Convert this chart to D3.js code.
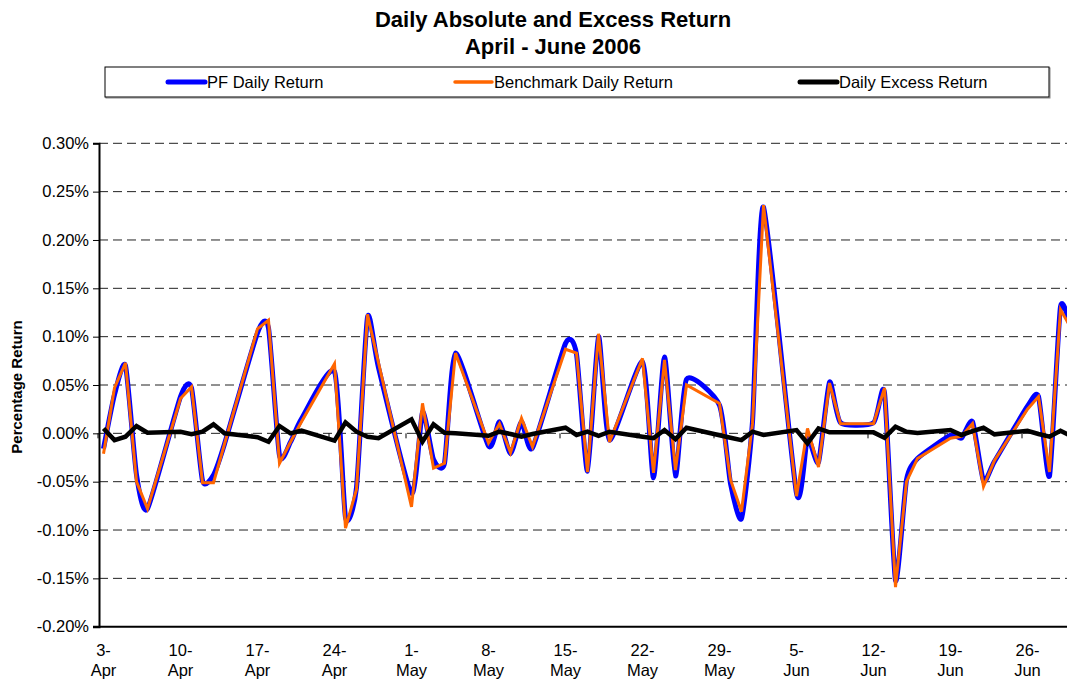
<!DOCTYPE html>
<meta charset="utf-8">
<style>
body { margin: 0; background: #fff; }
svg { font-family: Arial, "Liberation Sans", sans-serif; display: block; }
</style>
<body>
<script src="https://cdnjs.cloudflare.com/ajax/libs/d3/7.8.5/d3.min.js"></script>
<script>

var width = 1067,
    height = 680;

// trading days, 3 Apr - 30 Jun 2006
var dates = [
  "2006-04-03","2006-04-04","2006-04-05","2006-04-06","2006-04-07",
  "2006-04-10","2006-04-11","2006-04-12","2006-04-13","2006-04-14",
  "2006-04-17","2006-04-18","2006-04-19","2006-04-20","2006-04-21",
  "2006-04-24","2006-04-25","2006-04-26","2006-04-27","2006-04-28",
  "2006-05-01","2006-05-02","2006-05-03","2006-05-04","2006-05-05",
  "2006-05-08","2006-05-09","2006-05-10","2006-05-11","2006-05-12",
  "2006-05-15","2006-05-16","2006-05-17","2006-05-18","2006-05-19",
  "2006-05-22","2006-05-23","2006-05-24","2006-05-25","2006-05-26",
  "2006-05-29","2006-05-30","2006-05-31","2006-06-01","2006-06-02",
  "2006-06-05","2006-06-06","2006-06-07","2006-06-08","2006-06-09",
  "2006-06-12","2006-06-13","2006-06-14","2006-06-15","2006-06-16",
  "2006-06-19","2006-06-20","2006-06-21","2006-06-22","2006-06-23",
  "2006-06-26","2006-06-27","2006-06-28","2006-06-29","2006-06-30"
];

// values in percent
var pfReturn = [
  -0.016, 0.040, 0.070, -0.043, -0.078,
  0.038, 0.047, -0.049, -0.043, -0.011,
  0.104, 0.109, -0.023, -0.009, 0.015,
  0.064, -0.087, -0.056, 0.120, 0.068,
  -0.062, 0.022, -0.027, -0.031, 0.083,
  -0.013, 0.012, -0.021, 0.012, -0.015,
  0.093, 0.082, -0.039, 0.100, -0.007,
  0.074, -0.046, 0.079, -0.044, 0.056,
  0.029, -0.052, -0.088, 0.012, 0.234,
  -0.062, -0.005, -0.030, 0.053, 0.011,
  0.011, 0.042, -0.152, -0.048, -0.026,
  -0.002, -0.005, 0.012, -0.049, -0.029,
  0.028, 0.038, -0.044, 0.131, 0.105
];

var bmReturn = [
  -0.021, 0.047, 0.073, -0.050, -0.078,
  0.036, 0.048, -0.051, -0.051, -0.011,
  0.108, 0.117, -0.031, -0.009, 0.012,
  0.072, -0.098, -0.058, 0.123, 0.073,
  -0.076, 0.031, -0.036, -0.031, 0.083,
  -0.010, 0.010, -0.020, 0.0155, -0.014,
  0.087, 0.083, -0.040, 0.103, -0.009,
  0.0776, -0.041, 0.076, -0.038, 0.050,
  0.031, -0.048, -0.081, 0.010, 0.236,
  -0.065, 0.005, -0.035, 0.052, 0.010,
  0.010, 0.047, -0.159, -0.050, -0.026,
  -0.005, -0.003, 0.010, -0.055, -0.028,
  0.025, 0.038, -0.040, 0.128, 0.108
];

var excessReturn = [
  0.005, -0.007, -0.0035, 0.0076, 0.0006,
  0.0017, -0.001, 0.0017, 0.0093, 0.0,
  -0.004, -0.0087, 0.0076, 0.0, 0.0028,
  -0.0076, 0.0114, 0.0017, -0.0035, -0.005,
  0.0145, -0.0087, 0.0093, 0.0006, 0.0,
  -0.0025, 0.0017, -0.0007, -0.0035, -0.0007,
  0.0058, -0.0017, 0.0017, -0.0025, 0.0017,
  -0.0035, -0.005, 0.0034, -0.006, 0.0058,
  -0.002, -0.0045, -0.007, 0.0017, -0.0017,
  0.0034, -0.0103, 0.005, 0.001, 0.001,
  0.001, -0.0045, 0.0069, 0.0017, 0.0003,
  0.0034, -0.0017, 0.0024, 0.0058, -0.001,
  0.0027, -0.0007, -0.0035, 0.0027, -0.003
];

var yTicks = [0.30, 0.25, 0.20, 0.15, 0.10, 0.05, 0.00, -0.05, -0.10, -0.15, -0.20];

var xTickDates = ["2006-04-03","2006-04-10","2006-04-17","2006-04-24","2006-05-01",
  "2006-05-08","2006-05-15","2006-05-22","2006-05-29","2006-06-05",
  "2006-06-12","2006-06-19","2006-06-26"];

var seriesNames = ["PF Daily Return", "Benchmark Daily Return", "Daily Excess Return"];
var seriesColors = ["#0000ff", "#ff6600", "#000000"];

var parse = d3.utcParse("%Y-%m-%d");
var fmtDay = d3.utcFormat("%-d-");
var fmtMon = d3.utcFormat("%b");

var plotLeft = 99, plotRight = 1090, plotTop = 143.3, plotBottom = 626.7;

var x = d3.scaleUtc()
    .domain([parse("2006-04-03"), parse("2006-06-29")])
    .range([103.5, 1060.5]);

var y = d3.scaleLinear()
    .domain([-0.20, 0.30])
    .range([plotBottom, plotTop]);

var svg = d3.select("body").append("svg")
    .attr("width", width)
    .attr("height", height);

// titles
svg.append("text")
  .attr("x", 553).attr("y", 27)
  .attr("text-anchor", "middle")
  .style("font-size", "22px").style("font-weight", "bold")
  .text("Daily Absolute and Excess Return");
svg.append("text")
  .attr("x", 553).attr("y", 54)
  .attr("text-anchor", "middle")
  .style("font-size", "22px").style("font-weight", "bold")
  .text("April - June 2006");

// legend
svg.append("rect")
  .attr("x", 106).attr("y", 68).attr("width", 944).attr("height", 30)
  .attr("fill", "none").attr("stroke", "#888").attr("stroke-width", 1);
svg.append("rect")
  .attr("x", 105).attr("y", 67).attr("width", 944).attr("height", 30)
  .attr("fill", "#fff").attr("stroke", "#000").attr("stroke-width", 1);

var legendX = [168, 455, 800];
var leg = svg.selectAll(".leg")
  .data(seriesNames)
  .enter().append("g")
  .attr("transform", function(d, i){ return "translate(" + legendX[i] + ",82)"; });
leg.append("line")
  .attr("x1", 0).attr("x2", 37).attr("y1", 0).attr("y2", 0)
  .attr("stroke", function(d, i){ return seriesColors[i]; })
  .attr("stroke-width", function(d, i){ return i == 1 ? 3.5 : 5; })
  .attr("stroke-linecap", "round");
leg.append("text")
  .attr("x", 39).attr("y", 6)
  .style("font-size", "16.5px")
  .text(function(d){ return d; });

// gridlines
svg.selectAll(".grid")
  .data(yTicks.filter(function(d){ return d > -0.2; }))
  .enter().append("line")
  .attr("x1", plotLeft).attr("x2", plotRight)
  .attr("y1", function(d){ return y(d); })
  .attr("y2", function(d){ return y(d); })
  .attr("stroke", "#222")
  .attr("stroke-width", 1)
  .attr("stroke-dasharray", "9,5");

// y axis
var yAxis = d3.axisLeft(y)
  .tickValues(yTicks)
  .tickSize(6)
  .tickFormat(function(d){ return d.toFixed(2) + "%"; });
var gy = svg.append("g")
  .attr("transform", "translate(" + plotLeft + ",0)")
  .call(yAxis);
gy.select(".domain").attr("stroke", "#000").attr("stroke-width", 2);
gy.selectAll(".tick line").attr("stroke", "#000");
gy.selectAll(".tick text")
  .attr("x", -10)
  .style("font-size", "16.5px")
  .style("font-family", "Arial, 'Liberation Sans', sans-serif")
  .attr("fill", "#000");

// bottom border
svg.append("line")
  .attr("x1", plotLeft - 6).attr("x2", plotRight)
  .attr("y1", plotBottom).attr("y2", plotBottom)
  .attr("stroke", "#000").attr("stroke-width", 2);

// x axis labels (two lines)
var xt = svg.selectAll(".xt")
  .data(xTickDates)
  .enter().append("text")
  .attr("text-anchor", "middle")
  .style("font-size", "16.5px");
xt.append("tspan")
  .attr("x", function(d){ return x(parse(d)); })
  .attr("y", 656)
  .text(function(d){ return fmtDay(parse(d)); });
xt.append("tspan")
  .attr("x", function(d){ return x(parse(d)); })
  .attr("y", 676)
  .text(function(d){ return fmtMon(parse(d)); });

// week tick marks on the zero line
svg.selectAll(".wt")
  .data(xTickDates)
  .enter().append("line")
  .attr("x1", function(d){ return x(parse(d)) - 5.5; })
  .attr("x2", function(d){ return x(parse(d)) - 5.5; })
  .attr("y1", y(0)).attr("y2", y(0) + 5)
  .attr("stroke", "#000").attr("stroke-width", 1);

// y label
svg.append("text")
  .attr("transform", "translate(22,387) rotate(-90)")
  .attr("text-anchor", "middle")
  .style("font-size", "15px").style("font-weight", "bold")
  .text("Percentage Return");

// series
var rows = dates.map(function(d, i){
  return { date: parse(d), pf: pfReturn[i], bm: bmReturn[i], ex: excessReturn[i] };
});

svg.append("clipPath").attr("id", "clip")
  .append("rect").attr("x", plotLeft + 1).attr("y", 0)
  .attr("width", plotRight - plotLeft).attr("height", height);

var g = svg.append("g").attr("clip-path", "url(#clip)");

var smooth = d3.line()
  .x(function(d){ return x(d.date); })
  .curve(d3.curveCardinal.tension(0.4));
var straight = d3.line()
  .x(function(d){ return x(d.date); });

g.append("path")
  .datum(rows)
  .attr("fill", "none")
  .attr("stroke", seriesColors[0])
  .attr("stroke-width", 5)
  .attr("stroke-linejoin", "round")
  .attr("d", smooth.y(function(d){ return y(d.pf); }));

g.append("path")
  .datum(rows)
  .attr("fill", "none")
  .attr("stroke", seriesColors[1])
  .attr("stroke-width", 3)
  .attr("stroke-linejoin", "miter")
  .attr("d", straight.y(function(d){ return y(d.bm); }));

g.append("path")
  .datum(rows)
  .attr("fill", "none")
  .attr("stroke", seriesColors[2])
  .attr("stroke-width", 4.5)
  .attr("stroke-linejoin", "miter")
  .attr("d", d3.line()
    .x(function(d){ return x(d.date); })
    .y(function(d){ return y(d.ex); })(rows));

</script>
